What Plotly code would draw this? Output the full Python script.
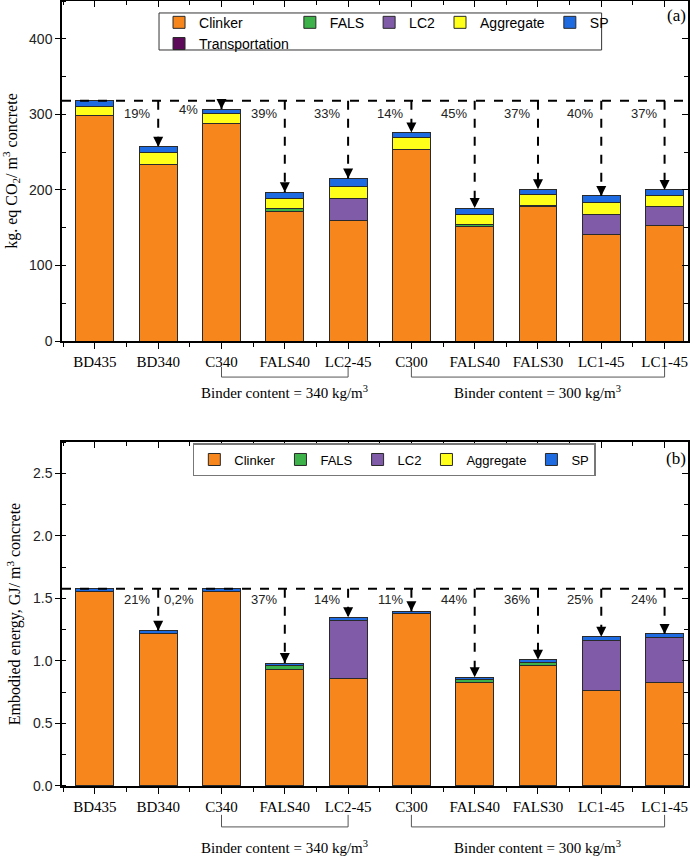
import plotly.graph_objects as go

# ---- data -------------------------------------------------------------
mixes = ["BD435", "BD340", "C340", "FALS40", "LC2-45",
         "C300", "FALS40", "FALS30", "LC1-45", "LC1-45"]

# (a) kg eq CO2 / m3 concrete
co2_clinker = [298, 233, 288, 172, 159, 254, 152, 178, 141, 153]
co2_fals = [0, 0, 0, 3, 0, 0, 2, 2, 0, 0]
co2_lc2 = [0, 0, 0, 0, 30, 0, 0, 0, 27, 25]
co2_aggregate = [13, 17, 13, 14, 16, 16, 14, 14, 15, 14]
co2_sp = [7, 7, 6, 8, 10, 6, 8, 7, 9, 8]
co2_transport = [0, 0, 0, 0, 0, 0, 0, 0, 0, 0]
co2_labels = ["", "19%", "4%", "39%", "33%", "14%", "45%", "37%", "40%", "37%"]

# (b) embodied energy GJ / m3 concrete
en_clinker = [1.556, 1.218, 1.553, 0.935, 0.860, 1.377, 0.830, 0.960, 0.764, 0.830]
en_fals = [0, 0, 0, 0.028, 0, 0, 0.020, 0.029, 0, 0]
en_lc2 = [0, 0, 0, 0, 0.460, 0, 0, 0, 0.400, 0.356]
en_aggregate = [0, 0, 0, 0, 0, 0, 0, 0, 0, 0]
en_sp = [0.020, 0.024, 0.022, 0.020, 0.028, 0.020, 0.020, 0.020, 0.030, 0.030]
en_labels = ["", "21%", "0,2%", "37%", "14%", "11%", "44%", "36%", "25%", "24%"]

groups = [("Binder content = 340 kg/m<sup>3</sup>", 2, 4),
          ("Binder content = 300 kg/m<sup>3</sup>", 5, 9)]

# ---- style ------------------------------------------------------------
colors = {"Clinker": "#F7861C", "FALS": "#3DB14A", "LC2": "#7F5BA8",
          "Aggregate": "#FFFF1A", "SP": "#1E6BE1", "Transportation": "#5E0A5A"}
SERIF = "Liberation Serif"
SANS = "Liberation Sans"
x = list(range(len(mixes)))
XR = [-0.52, 9.37]

fig = go.Figure()


def add_stack(series, xa, ya, legends):
    for name, vals in series:
        fig.add_trace(go.Bar(x=x, y=vals, name=name, width=0.6,
                             marker=dict(color=colors[name],
                                         line=dict(color="#2a2a2a", width=1)),
                             xaxis=xa, yaxis=ya, legend=legends[name]))


# top panel legend: column 1 = Clinker / Transportation, then a row of the rest
top_leg = {"Clinker": "legend", "Transportation": "legend",
           "FALS": "legend2", "LC2": "legend2", "Aggregate": "legend2", "SP": "legend2"}
bot_leg = {k: "legend3" for k in top_leg}

add_stack([("Clinker", co2_clinker), ("FALS", co2_fals), ("LC2", co2_lc2),
           ("Aggregate", co2_aggregate), ("SP", co2_sp),
           ("Transportation", co2_transport)], "x", "y", top_leg)
add_stack([("Clinker", en_clinker), ("FALS", en_fals), ("LC2", en_lc2),
           ("Aggregate", en_aggregate), ("SP", en_sp)], "x2", "y2", bot_leg)

# empty traces so the mirrored tick axes get drawn
for xa, ya in [("x3", "y"), ("x", "y3"), ("x4", "y2"), ("x2", "y4")]:
    fig.add_trace(go.Scatter(x=[None], y=[None], xaxis=xa, yaxis=ya,
                             showlegend=False, hoverinfo="skip"))


def totals(*cols):
    return [sum(v) for v in zip(*cols)]


co2_tot = totals(co2_clinker, co2_fals, co2_lc2, co2_aggregate, co2_sp, co2_transport)
en_tot = totals(en_clinker, en_fals, en_lc2, en_aggregate, en_sp)

# label offsets (px): most sit just left of their arrow
lab_dx = {"a": [0, -6, -22, -6, -6, -6, -6, -6, -6, -6],
          "b": [0, -6, -26, -6, -6, -6, -6, -6, -6, -6]}
lab_dy = {"a": [0, -13, -9, -13, -13, -13, -13, -13, -13, -13],
          "b": [0, -11, -11, -11, -11, -11, -11, -11, -11, -11]}

for key, tot, labels, xa, ya in [("a", co2_tot, co2_labels, "x", "y"),
                                 ("b", en_tot, en_labels, "x2", "y2")]:
    ref = tot[0]
    fig.add_shape(type="line", xref=xa + " domain", yref=ya, x0=0, x1=1,
                  y0=ref, y1=ref, line=dict(color="black", width=2, dash="dash"))
    for i in range(1, len(x)):
        if ref - tot[i] > ref * 0.01:
            fig.add_trace(go.Scatter(x=[i, i], y=[ref, tot[i]], mode="lines",
                                     line=dict(color="black", width=2, dash="dash"),
                                     showlegend=False, hoverinfo="skip",
                                     xaxis=xa, yaxis=ya))
        if ref - tot[i] > ref * 0.01 or key == "a":
            fig.add_annotation(x=i, y=tot[i], xref=xa, yref=ya, text="",
                               showarrow=True, ax=0, ay=-9, arrowhead=2,
                               arrowsize=1, arrowwidth=2, arrowcolor="black")
        fig.add_annotation(x=i, y=ref, xref=xa, yref=ya, text=labels[i],
                           showarrow=False, xanchor="right", yanchor="middle",
                           xshift=lab_dx[key][i], yshift=lab_dy[key][i],
                           font=dict(family=SANS, size=13, color="#222"))
    # binder-content brackets
    yb, yv, yt = (-0.106, -0.076, -0.182) if key == "a" else (-0.119, -0.084, -0.209)
    for text, g0, g1 in groups:
        fig.add_shape(type="path", xref=xa, yref=ya + " domain",
                      path=f"M {g0},{yv} L {g0},{yb} L {g1},{yb} L {g1},{yv}",
                      line=dict(color="#555", width=1))
        fig.add_annotation(x=(g0 + g1) / 2, y=yt, xref=xa, yref=ya + " domain",
                           text=text, showarrow=False,
                           font=dict(family=SERIF, size=15, color="black"))

# panel letters
fig.add_annotation(x=1.0, y=0.996, xref="paper", yref="paper", text="(a)",
                   showarrow=False, xanchor="right", yanchor="top",
                   font=dict(family=SERIF, size=17, color="black"))
fig.add_annotation(x=1.0, y=0.478, xref="paper", yref="paper", text="(b)",
                   showarrow=False, xanchor="right", yanchor="top",
                   font=dict(family=SERIF, size=17, color="black"))

# legend box for top panel (two rows)
fig.add_shape(type="rect", xref="paper", yref="paper", x0=0.155, x1=0.862,
              y0=0.9427, y1=0.986, line=dict(color="#333", width=1),
              fillcolor="rgba(0,0,0,0)")

tickfont = dict(family=SANS, size=14, color="#222")
xcommon = dict(range=XR, tickmode="array", tickvals=x, ticktext=mixes,
               ticks="outside", ticklen=6, tickcolor="black",
               showline=True, linecolor="black", linewidth=1.5, mirror=True,
               showgrid=False, zeroline=False, ticklabeloverflow="allow",
               tickfont=dict(family=SERIF, size=15, color="black"),
               minor=dict(tickmode="linear", tick0=0.5, dtick=1,
                          ticks="outside", ticklen=4, tickcolor="black"))
ycommon = dict(ticks="outside", ticklen=5, tickcolor="black",
               showline=True, linecolor="black", linewidth=1.5, mirror=True,
               showgrid=False, zeroline=False, tickfont=tickfont,
               title=dict(font=dict(family=SERIF, size=16, color="black"), standoff=8))


def mirror_x(anchor, over):
    return dict(overlaying=over, anchor=anchor, side="top", range=XR,
                tickmode="array", tickvals=x, showticklabels=False,
                ticks="inside", ticklen=6, tickcolor="black",
                showline=False, showgrid=False, zeroline=False,
                minor=dict(tickmode="linear", tick0=0.5, dtick=1,
                           ticks="inside", ticklen=4, tickcolor="black"))


def mirror_y(anchor, over, rng, dt, mdt):
    return dict(overlaying=over, anchor=anchor, side="right", range=rng,
                dtick=dt, showticklabels=False, ticks="inside", ticklen=6,
                tickcolor="black", showline=False, showgrid=False, zeroline=False,
                minor=dict(dtick=mdt, ticks="inside", ticklen=4, tickcolor="black"))


legfont = dict(family=SANS, size=14, color="black")
fig.update_layout(
    width=697, height=856,
    margin=dict(l=62, r=9, t=1, b=0, autoexpand=False),
    plot_bgcolor="white", paper_bgcolor="white",
    barmode="stack", bargap=0.4,
    xaxis=dict(anchor="y", **xcommon),
    yaxis=dict(domain=[0.6023, 1.0], anchor="x", range=[0, 450], dtick=100,
               minor=dict(dtick=50, ticks="inside", ticklen=4, tickcolor="black"),
               **{**ycommon, "title": dict(ycommon["title"],
                                           text="kg. eq CO<sub>2</sub>/ m<sup>3</sup> concrete")}),
    xaxis2=dict(anchor="y2", **xcommon),
    yaxis2=dict(domain=[0.0819, 0.4842], anchor="x2", range=[0, 2.75], dtick=0.5,
                tickformat=".1f",
                minor=dict(dtick=0.25, ticks="inside", ticklen=4, tickcolor="black"),
                **{**ycommon, "title": dict(ycommon["title"],
                                            text="Embodied energy, GJ/ m<sup>3</sup> concrete")}),
    xaxis3=mirror_x("y", "x"),
    yaxis3=mirror_y("x", "y", [0, 450], 100, 50),
    xaxis4=mirror_x("y2", "x2"),
    yaxis4=mirror_y("x2", "y2", [0, 2.75], 0.5, 0.25),
    legend=dict(orientation="v", x=0.155, y=0.9933, xanchor="left", yanchor="top",
                bgcolor="rgba(0,0,0,0)", borderwidth=0, traceorder="normal",
                font=legfont, itemwidth=30, tracegroupgap=0),
    legend2=dict(orientation="h", x=0.364, y=0.9933, xanchor="left", yanchor="top",
                 bgcolor="rgba(0,0,0,0)", borderwidth=0, traceorder="normal",
                 font=legfont, itemwidth=30),
    legend3=dict(orientation="h", x=0.209, y=0.483, xanchor="left", yanchor="top",
                 bgcolor="white", bordercolor="#777", borderwidth=1.5,
                 traceorder="normal",
                 font=dict(family=SANS, size=13, color="black"), itemwidth=30),
)

fig.write_html("out.html", config={"displayModeBar": False},
               post_script="document.body.style.margin='0';")
